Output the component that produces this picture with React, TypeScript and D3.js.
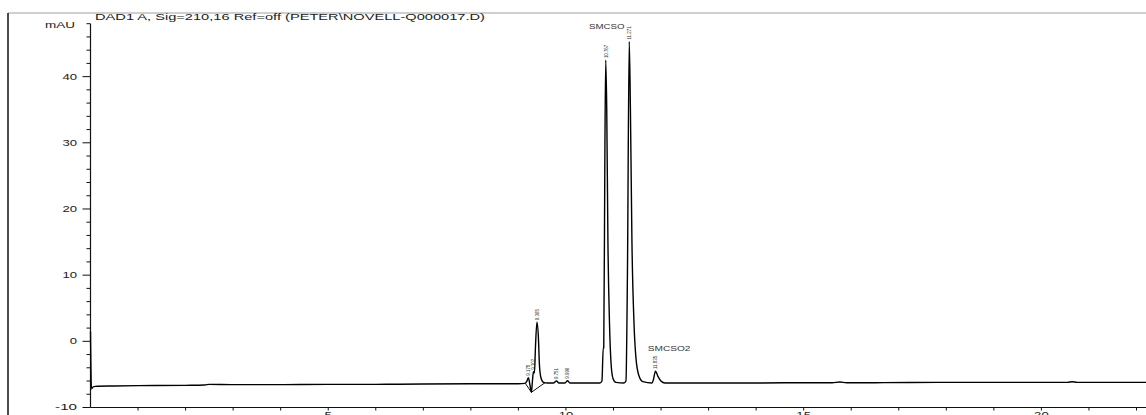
import React from "react";
import * as d3 from "d3";

const title = "DAD1 A, Sig=210,16 Ref=off (PETER\\NOVELL-Q000017.D)";
const yUnit = "mAU";
const yTicks = [-10, 0, 10, 20, 30, 40];
const yMinorTicks = [-8, -6, -4, -2, 2, 4, 6, 8, 12, 14, 16, 18, 22, 24, 26, 28, 32, 34, 36, 38, 42, 44, 46, 48];
const xTickLabels = [5, 10, 15, 20];
const xMinorTicks = [1, 2, 3, 4, 6, 7, 8, 9, 11, 12, 13, 14, 16, 17, 18, 19, 21, 22];

// chromatogram trace: [time (min), signal (mAU)]
const trace: [number, number][] = [
  [0.0, 1.5], [0.02, -7.2], [0.05, -6.9], [0.1, -6.8], [0.5, -6.75], [1.0, -6.7],
  [2.0, -6.65], [2.4, -6.6], [2.5, -6.5], [3.0, -6.55], [4.0, -6.55], [5.0, -6.5],
  [6.0, -6.5], [7.0, -6.45], [8.0, -6.4], [9.0, -6.4], [9.137, -6.35],
  [9.179, -6.0], [9.211, -5.5], [9.243, -6.6], [9.274, -7.7], [9.295, -6.0],
  [9.316, -4.6], [9.337, -4.8], [9.358, -1.0], [9.39, 2.9], [9.421, 0.5],
  [9.442, -3.5], [9.474, -5.5], [9.527, -6.2], [9.611, -6.3], [9.737, -6.3],
  [9.8, -6.0], [9.853, -6.3], [9.979, -6.3], [10.032, -5.95], [10.084, -6.3],
  [10.715, -6.3], [10.757, -6.0], [10.784, -1.0], [10.795, -1.0], [10.82, 30],
  [10.837, 42.5], [10.858, 35], [10.883, 15], [10.915, 3], [10.946, -3],
  [10.989, -5.6], [11.052, -6.2], [11.22, -6.3], [11.262, -6.0], [11.293, 10],
  [11.331, 45.3], [11.356, 35], [11.388, 15], [11.43, 3], [11.472, -2.5],
  [11.535, -5.2], [11.619, -6.1], [11.809, -6.3], [11.84, -5.8], [11.882, -4.5],
  [11.935, -5.3], [11.998, -6.0], [12.082, -6.3], [13.0, -6.3], [14.0, -6.3],
  [15.0, -6.25], [15.6, -6.25], [15.76, -6.15], [15.9, -6.25], [16.5, -6.25],
  [18.0, -6.2], [20.0, -6.2], [20.55, -6.2], [20.65, -6.1], [20.75, -6.2],
  [21.0, -6.2], [22.2, -6.2],
];

// integration baseline drawn under the 9.x min cluster
const integrationBase: [number, number][] = [
  [9.15, -6.4], [9.274, -7.7], [9.56, -6.25],
];

// retention time labels at peak apexes
const rtLabels = [
  { t: 9.211, v: -5.5, text: "9.178" },
  { t: 9.316, v: -4.6, text: "9.302" },
  { t: 9.39, v: 2.9, text: "9.365" },
  { t: 9.8, v: -6.0, text: "9.751" },
  { t: 10.032, v: -5.95, text: "9.996" },
  { t: 10.837, v: 42.5, text: "10.767" },
  { t: 11.331, v: 45.3, text: "11.271" },
  { t: 11.882, v: -4.5, text: "11.835" },
];

const compoundNames = [
  { t: 10.86, v: 47.2, text: "SMCSO" },
  { t: 12.17, v: -1.5, text: "SMCSO2" },
];

const W = 1146;
const H = 415;
const FONT = "'Liberation Sans', Arial, sans-serif";

export default function App() {
  const x = d3.scaleLinear().domain([0, 22.2]).range([90.5, 1146]);
  const y = d3.scaleLinear().domain([-10, 48]).range([407.5, 23.7]);
  const line = d3
    .line<[number, number]>()
    .x((d) => x(d[0]))
    .y((d) => y(d[1]))
    .curve(d3.curveMonotoneX);
  const baseLine = d3
    .line<[number, number]>()
    .x((d) => x(d[0]))
    .y((d) => y(d[1]));

  const x0 = x(0);
  const yBottom = y(-10);

  return (
    <svg
      width={W}
      height={H}
      style={{ position: "absolute", left: 0, top: 0, background: "#fff" }}
      fontFamily={FONT}
    >
      {/* frame */}
      <line x1={8} y1={13} x2={W} y2={13} stroke="#a0a0a0" strokeWidth={1} />
      <line x1={8} y1={13} x2={8} y2={H} stroke="#111" strokeWidth={1.5} />

      {/* title */}
      <text x={95} y={20} fontSize={9} fill="#222" textLength={390} lengthAdjust="spacingAndGlyphs">
        {title}
      </text>
      <text x={45} y={28} fontSize={8.5} fill="#222" textLength={30} lengthAdjust="spacingAndGlyphs">
        {yUnit}
      </text>

      {/* y axis */}
      <line x1={x0} y1={y(48)} x2={x0} y2={yBottom} stroke="#111" strokeWidth={1.2} />
      {yTicks.map((v) => (
        <g key={"yt" + v}>
          <line x1={x0 - 8} x2={x0} y1={y(v)} y2={y(v)} stroke="#111" strokeWidth={1} />
          <text
            x={77}
            y={y(v)}
            dy="0.35em"
            fontSize={8.5}
            textAnchor="end"
            fill="#222"
            textLength={String(v).length * 7.3}
            lengthAdjust="spacingAndGlyphs"
          >
            {v < 0 ? "-" + Math.abs(v) : String(v)}
          </text>
        </g>
      ))}
      {yMinorTicks.map((v) => (
        <line key={"ym" + v} x1={x0 - 4} x2={x0} y1={y(v)} y2={y(v)} stroke="#111" strokeWidth={1} />
      ))}

      {/* x axis */}
      <line x1={x0} y1={yBottom} x2={W} y2={yBottom} stroke="#111" strokeWidth={1.2} />
      {xMinorTicks.map((t) => (
        <line key={"xm" + t} x1={x(t)} x2={x(t)} y1={yBottom} y2={yBottom + 3} stroke="#111" strokeWidth={1} />
      ))}
      {xTickLabels.map((t) => (
        <g key={"xt" + t}>
          <line x1={x(t)} x2={x(t)} y1={yBottom} y2={yBottom + 3} stroke="#111" strokeWidth={1} />
          <text
            x={x(t)}
            y={yBottom + 10}
            fontSize={8.5}
            textAnchor="middle"
            fill="#222"
            textLength={String(t).length * 7.3}
            lengthAdjust="spacingAndGlyphs"
          >
            {t}
          </text>
        </g>
      ))}

      {/* integration baseline */}
      <path d={baseLine(integrationBase) || ""} fill="none" stroke="#111" strokeWidth={1} />

      {/* trace */}
      <path d={line(trace) || ""} fill="none" stroke="#000" strokeWidth={1.4} strokeLinejoin="round" />

      {/* retention time labels */}
      {rtLabels.map((p) => (
        <text
          key={p.text}
          transform={`translate(${x(p.t) + 2},${y(p.v) - 2}) rotate(-90)`}
          fontSize={6}
          fill="#333"
          textLength={p.text.length * 2.2}
          lengthAdjust="spacingAndGlyphs"
        >
          {p.text}
        </text>
      ))}

      {/* compound names */}
      {compoundNames.map((c) => (
        <text
          key={c.text}
          x={x(c.t)}
          y={y(c.v)}
          fontSize={7}
          textAnchor="middle"
          fill="#333"
          textLength={c.text.length * 7.1}
          lengthAdjust="spacingAndGlyphs"
        >
          {c.text}
        </text>
      ))}
    </svg>
  );
}
